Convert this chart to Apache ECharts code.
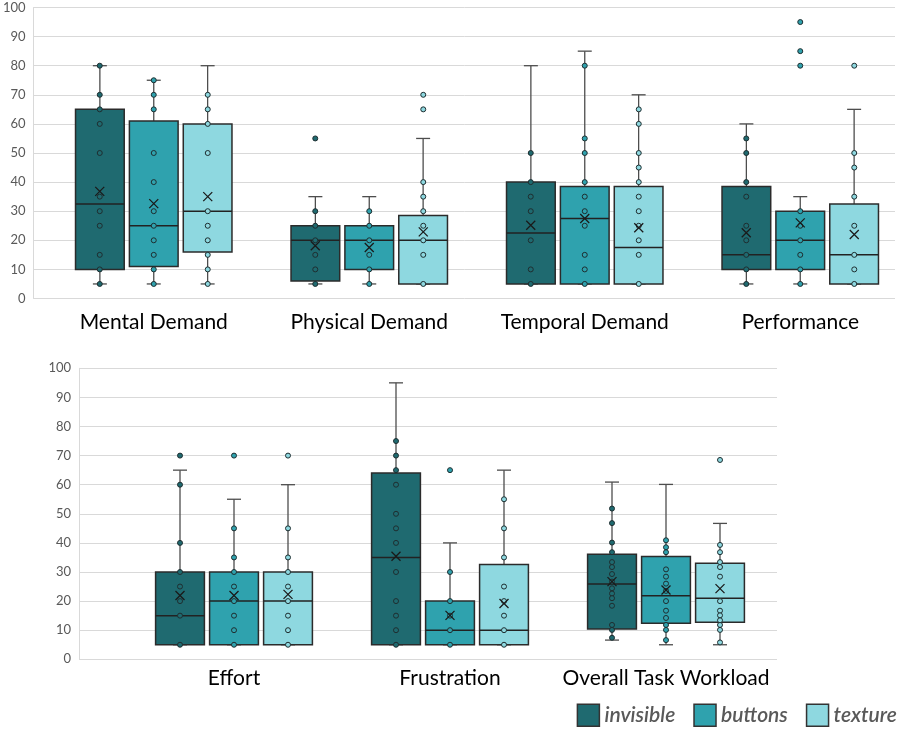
<!DOCTYPE html>
<html>
<head>
<meta charset="utf-8">
<script src="https://cdn.jsdelivr.net/npm/echarts@6/dist/echarts.min.js"></script>
<style>
  html, body { margin: 0; padding: 0; background: #fff; }
  #main { width: 908px; height: 736px; }
</style>
</head>
<body>
<div id="main"></div>
<script>
var groups = ['invisible', 'buttons', 'texture'];
var colors = ['#1f6a70', '#2fa2ae', '#8ed8e0'];

var topCategories = ['Mental Demand', 'Physical Demand', 'Temporal Demand', 'Performance'];
var bottomCategories = ['Effort', 'Frustration', 'Overall Task Workload'];
var yTicks = [0, 10, 20, 30, 40, 50, 60, 70, 80, 90, 100];

// [min, Q1, median, Q3, max] for each category
var topInvisibleBox = [[5, 10, 32.5, 65, 80], [5, 6, 20, 25, 35], [5, 5, 22.5, 40, 80], [5, 10, 15, 38.5, 60]];
var topButtonsBox = [[5, 11, 25, 61, 75], [5, 10, 20, 25, 35], [5, 5, 27.5, 38.5, 85], [5, 10, 20, 30, 35]];
var topTextureBox = [[5, 16, 30, 60, 80], [5, 5, 20, 28.5, 55], [5, 5, 17.5, 38.5, 70], [5, 5, 15, 32.5, 65]];
var bottomInvisibleBox = [[5, 5, 15, 30, 65], [5, 5, 35, 64, 95], [6.6, 10.4, 25.9, 36.1, 60.9]];
var bottomButtonsBox = [[5, 5, 20, 30, 55], [5, 5, 10, 20, 40], [5, 12.4, 21.8, 35.3, 60.1]];
var bottomTextureBox = [[5, 5, 20, 30, 60], [5, 5, 10, 32.6, 65], [5, 12.7, 21, 33, 46.7]];

// means (the x marks)
var topInvisibleMean = [36.8, 18.1, 25.2, 22.6];
var topButtonsMean = [32.6, 17.5, 27.5, 26];
var topTextureMean = [35, 22.9, 24.3, 22];
var bottomInvisibleMean = [21.9, 35.4, 26.7];
var bottomButtonsMean = [21.9, 15.1, 23.8];
var bottomTextureMean = [22.3, 19.2, 24.3];

// individual answers (dots)
var topInvisiblePoints = [
  [80, 70, 65, 60, 50, 35, 30, 25, 15, 10, 5],
  [55, 30, 25, 20, 15, 10, 5],
  [50, 40, 35, 30, 20, 10, 5],
  [55, 50, 40, 35, 25, 20, 15, 10, 5]
];
var topButtonsPoints = [
  [75, 70, 65, 50, 40, 30, 25, 20, 15, 10, 5],
  [30, 25, 20, 15, 10, 5],
  [80, 55, 50, 40, 35, 30, 25, 15, 10, 5],
  [95, 85, 80, 30, 25, 20, 15, 10, 5]
];
var topTexturePoints = [
  [70, 65, 60, 50, 30, 25, 20, 15, 10, 5],
  [70, 65, 40, 35, 30, 25, 20, 15, 5],
  [65, 60, 50, 45, 40, 35, 30, 25, 20, 15, 5],
  [80, 50, 45, 35, 25, 15, 10, 5]
];
var bottomInvisiblePoints = [
  [70, 60, 40, 30, 25, 20, 15, 5],
  [75, 70, 65, 60, 50, 45, 40, 30, 20, 15, 10, 5],
  [51.8, 46.8, 40.1, 36.8, 33.4, 31.7, 29.3, 26.7, 24.4, 22.6, 21, 18.4, 11.8, 10.1, 7.4]
];
var bottomButtonsPoints = [
  [70, 45, 35, 30, 25, 20, 15, 10, 5],
  [65, 30, 20, 15, 10, 5],
  [40.9, 38.5, 36.8, 30.9, 28.4, 26, 23.5, 20, 16.7, 14.2, 11.8, 10.1, 6.6]
];
var bottomTexturePoints = [
  [70, 45, 35, 30, 25, 20, 15, 10, 5],
  [55, 45, 35, 25, 20, 15, 10, 5],
  [68.5, 39.3, 36.8, 33.4, 31.7, 28.4, 20, 16.7, 15.1, 13.4, 11.8, 10.1, 5.8]
];

var panels = [
  {
    box: [topInvisibleBox, topButtonsBox, topTextureBox],
    mean: [topInvisibleMean, topButtonsMean, topTextureMean],
    points: [topInvisiblePoints, topButtonsPoints, topTexturePoints]
  },
  {
    box: [bottomInvisibleBox, bottomButtonsBox, bottomTextureBox],
    mean: [bottomInvisibleMean, bottomButtonsMean, bottomTextureMean],
    points: [bottomInvisiblePoints, bottomButtonsPoints, bottomTexturePoints]
  }
];

var font = 'Lato, "Open Sans", sans-serif';
var slot = 54; // distance between the three boxes of one category

function boxRenderer(g) {
  return function (params, api) {
    var cat = api.value(0);
    var band = api.size([1, 0])[0];
    var cx = api.coord([cat, 0])[0] + (g - 1) * band * 0.25;
    var half = band * 0.113;
    var cap = 7;
    var y = [1, 2, 3, 4, 5].map(function (d) { return api.coord([cat, api.value(d)])[1]; });
    var wStyle = { stroke: '#4d4d4d', lineWidth: 1.3 };
    return {
      type: 'group',
      children: [
        { type: 'line', shape: { x1: cx, y1: y[4], x2: cx, y2: y[0] }, style: wStyle },
        { type: 'line', shape: { x1: cx - cap, y1: y[4], x2: cx + cap, y2: y[4] }, style: wStyle },
        { type: 'line', shape: { x1: cx - cap, y1: y[0], x2: cx + cap, y2: y[0] }, style: wStyle },
        { type: 'rect', shape: { x: cx - half, y: y[3], width: half * 2, height: y[1] - y[3] },
          style: { fill: colors[g], stroke: '#2b2b2b', lineWidth: 1.5 } },
        { type: 'line', shape: { x1: cx - half, y1: y[2], x2: cx + half, y2: y[2] },
          style: { stroke: '#222', lineWidth: 1.5 } }
      ]
    };
  };
}

function valueY(gridIndex, show) {
  return {
    type: 'value', gridIndex: gridIndex, min: 0, max: 100, interval: 10, show: show,
    axisLine: { show: true, lineStyle: { color: '#d9d9d9' } },
    axisTick: { show: false },
    axisLabel: { color: '#595959', fontSize: 13, fontFamily: font, margin: 8 },
    splitLine: { lineStyle: { color: '#d9d9d9', width: 1 } }
  };
}

function catX(gridIndex, cats, margin) {
  return {
    type: 'category', gridIndex: gridIndex, data: cats,
    axisLine: { show: false }, axisTick: { show: false },
    splitLine: { show: false },
    axisLabel: { color: '#000', fontSize: 21, fontFamily: font, margin: margin, interval: 0 }
  };
}

var series = [];
panels.forEach(function (p, pi) {
  var axis = pi * 2 + 1;
  for (var g = 0; g < 3; g++) {
    series.push({
      name: groups[g], type: 'custom', xAxisIndex: axis, yAxisIndex: axis,
      renderItem: boxRenderer(g),
      itemStyle: { color: colors[g] },
      encode: { x: 0, y: [1, 2, 3, 4, 5] },
      data: p.box[g].map(function (b, i) { return [i].concat(b); }),
      z: 2
    });
  }
  for (var g2 = 0; g2 < 3; g2++) {
    var pts = [];
    p.points[g2].forEach(function (list, i) {
      list.forEach(function (v) { pts.push([i, v]); });
    });
    series.push({
      name: groups[g2], type: 'scatter', xAxisIndex: axis, yAxisIndex: axis,
      symbol: 'circle', symbolSize: 5, symbolOffset: [(g2 - 1) * slot, 0],
      itemStyle: { color: colors[g2], borderColor: '#1e2e30', borderWidth: 1, opacity: 1 },
      data: pts, z: 4, silent: true
    });
    series.push({
      name: groups[g2], type: 'scatter', xAxisIndex: axis, yAxisIndex: axis,
      symbol: 'path://M0,0L10,10M10,0L0,10', symbolSize: 9, symbolOffset: [(g2 - 1) * slot, 0],
      itemStyle: { color: 'rgba(0,0,0,0)', borderColor: '#1a1a1a', borderWidth: 1.3, opacity: 1 },
      data: p.mean[g2].map(function (v, i) { return [i, v]; }), z: 5, silent: true
    });
  }
});

var chart = echarts.init(document.getElementById('main'));
chart.setOption({
  animation: false,
  backgroundColor: '#fff',
  grid: [
    { left: 32, top: 7.5, width: 863, height: 291 },
    { left: 46, top: 7.5, width: 866, height: 291 },
    { left: 79, top: 368.3, width: 698, height: 291 },
    { left: 126, top: 368.3, width: 648, height: 291 }
  ],
  xAxis: [
    { type: 'value', gridIndex: 0, show: false, min: 0, max: 1 },
    catX(1, topCategories, 13),
    { type: 'value', gridIndex: 2, show: false, min: 0, max: 1 },
    catX(3, bottomCategories, 8)
  ],
  yAxis: [valueY(0, true), valueY(1, false), valueY(2, true), valueY(3, false)],
  legend: {
    right: 6, bottom: 4,
    itemWidth: 22, itemHeight: 22, itemGap: 18,
    textStyle: { fontStyle: 'italic', fontWeight: 600, fontSize: 21, color: '#595959', fontFamily: font },
    data: groups.map(function (n, i) {
      return { name: n, icon: 'rect', itemStyle: { color: colors[i], borderColor: '#333', borderWidth: 1.5 } };
    })
  },
  series: series
});
</script>
</body>
</html>
